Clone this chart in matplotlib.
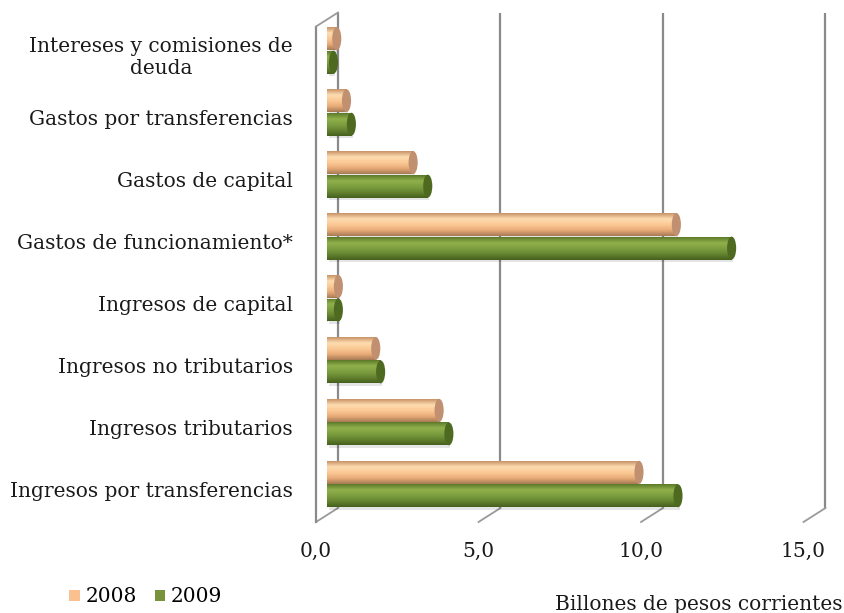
import numpy as np
import matplotlib
matplotlib.use("Agg")
import matplotlib.pyplot as plt
from matplotlib.patches import Ellipse, Patch
from matplotlib.transforms import ScaledTranslation
from matplotlib.colors import to_rgb

# ---------------- data ----------------
categories = [
    "Ingresos por transferencias",
    "Ingresos tributarios",
    "Ingresos no tributarios",
    "Ingresos de capital",
    "Gastos de funcionamiento*",
    "Gastos de capital",
    "Gastos por transferencias",
    "Intereses y comisiones de\ndeuda",
]
values_2008 = [9.6, 3.45, 1.5, 0.35, 10.75, 2.65, 0.6, 0.3]
values_2009 = [10.8, 3.75, 1.65, 0.35, 12.45, 3.1, 0.75, 0.2]
series_names = ["2008", "2009"]
x_ticks = [0, 5, 10, 15]
x_tick_labels = ["0,0", "5,0", "10,0", "15,0"]
axis_title = "Billones de pesos corrientes"

# ---------------- style ----------------
plt.rcParams['font.family'] = ['DejaVu Serif']
FS = 14.5
W, H = 845, 613
DPI = 100
fig = plt.figure(figsize=(W / DPI, H / DPI), dpi=DPI)

ax_left_px, ax_right_px = 327, 814.5
ax_top_px, ax_bot_px = 19.5, 515
ax = fig.add_axes([ax_left_px / W, 1 - ax_bot_px / H,
                   (ax_right_px - ax_left_px) / W, (ax_bot_px - ax_top_px) / H])
ax.set_xlim(0, 15)
ax.set_ylim(-0.5, len(categories) - 0.5)
ax.axis('off')

def px_offset(dx, dy):
    # dx, dy in pixels (dy positive = up)
    return ScaledTranslation(dx / DPI, dy / DPI, fig.dpi_scale_trans)

back = ax.transData + px_offset(11, 7)
front = ax.transData + px_offset(-11, -7)
grid_c = "#8a8a8a"
ymin, ymax = ax.get_ylim()

# back gridlines
for t in x_ticks:
    ax.plot([t, t], [ymin, ymax], color=grid_c, lw=1.6, transform=back,
            solid_capstyle='butt', zorder=1, clip_on=False)
# floor diagonal ticks
for t in x_ticks:
    p0 = back.transform((t, ymin))
    p1 = front.transform((t, ymin))
    ax.plot([p0[0], p1[0]], [p0[1], p1[1]], color="#9a9a9a", lw=1.3,
            transform=None, zorder=1, clip_on=False)
# front left wall edge and top diagonal
ax.plot([0, 0], [ymin, ymax], color=grid_c, lw=1.6, transform=front,
        zorder=1, clip_on=False)
p0 = back.transform((0, ymax))
p1 = front.transform((0, ymax))
ax.plot([p0[0], p1[0]], [p0[1], p1[1]], color="#9a9a9a", lw=1.3,
        transform=None, zorder=1, clip_on=False)

# ---------------- bars ----------------
y = np.arange(len(categories))
bh = 0.37
off = 0.19
col_2008 = ["#c89468", "#fddcb0", "#fbc994", "#e8ab78", "#a67a55"]
col_2009 = ["#5d7a2a", "#8fb04c", "#7e9f3f", "#658331", "#45601d"]
cap_2008 = "#c09070"
cap_2009 = "#4d6a20"

def grad_img(cols, n=64):
    stops = np.linspace(0, 1, len(cols))
    rgb = np.array([to_rgb(c) for c in cols])
    t = np.linspace(0, 1, n)
    arr = np.stack([np.interp(t, stops, rgb[:, k]) for k in range(3)], axis=1)
    return arr[:, None, :]

series = [(values_2008, +off, col_2008, cap_2008),
          (values_2009, -off, col_2009, cap_2009)]
for vals, dy, cols, capc in series:
    bars = ax.barh(y + dy, vals, height=bh, color=cols[2], edgecolor='none', zorder=3)
    img = grad_img(cols)
    for b in bars:
        x0, y0 = b.get_x(), b.get_y()
        w, h = b.get_width(), b.get_height()
        sh = plt.Rectangle((x0 + 0.05, y0 - 0.04), w, h, color="#000000",
                           alpha=0.10, zorder=2, lw=0)
        ax.add_patch(sh)
        im = ax.imshow(img, extent=(x0, x0 + w, y0, y0 + h), aspect='auto',
                       origin='upper', zorder=4, interpolation='bilinear')
        im.set_clip_path(b)
        capw = 0.28
        ax.add_patch(Ellipse((x0 + w, y0 + h / 2), capw, h, color=capc, zorder=5, lw=0))
        ax.add_patch(Ellipse((x0, y0 + h / 2), capw * 0.6, h, color=cols[2],
                             zorder=2.5, lw=0))

ax.set_xlim(0, 15)
ax.set_ylim(ymin, ymax)

# ---------------- labels ----------------
ylab_tr = ax.get_yaxis_transform() + px_offset(-34, -7)
for yi, name in zip(y, categories):
    ax.text(0, yi, name, transform=ylab_tr, ha='right', va='center',
            multialignment='center', fontsize=FS, color="#1a1a1a",
            linespacing=1.15, clip_on=False)

xlab_tr = ax.get_xaxis_transform() + px_offset(-11, -36)
for t, lab in zip(x_ticks, x_tick_labels):
    ax.text(t, 0, lab, transform=xlab_tr, ha='center', va='center',
            fontsize=FS, color="#1a1a1a", clip_on=False)

# legend
handles = [Patch(facecolor="#fac090", edgecolor='none'),
           Patch(facecolor="#77933c", edgecolor='none')]
fig.legend(handles, series_names, loc='center', bbox_to_anchor=(146 / W, 1 - 597 / H),
           ncol=2, frameon=False, fontsize=FS, handlelength=0.5, handleheight=0.5,
           handletextpad=0.3, columnspacing=0.9)

fig.text(555 / W, 1 - 605 / H, axis_title, ha='left', va='center', fontsize=FS,
         color="#1a1a1a")

fig.savefig("out.png", dpi=DPI, facecolor='white')
